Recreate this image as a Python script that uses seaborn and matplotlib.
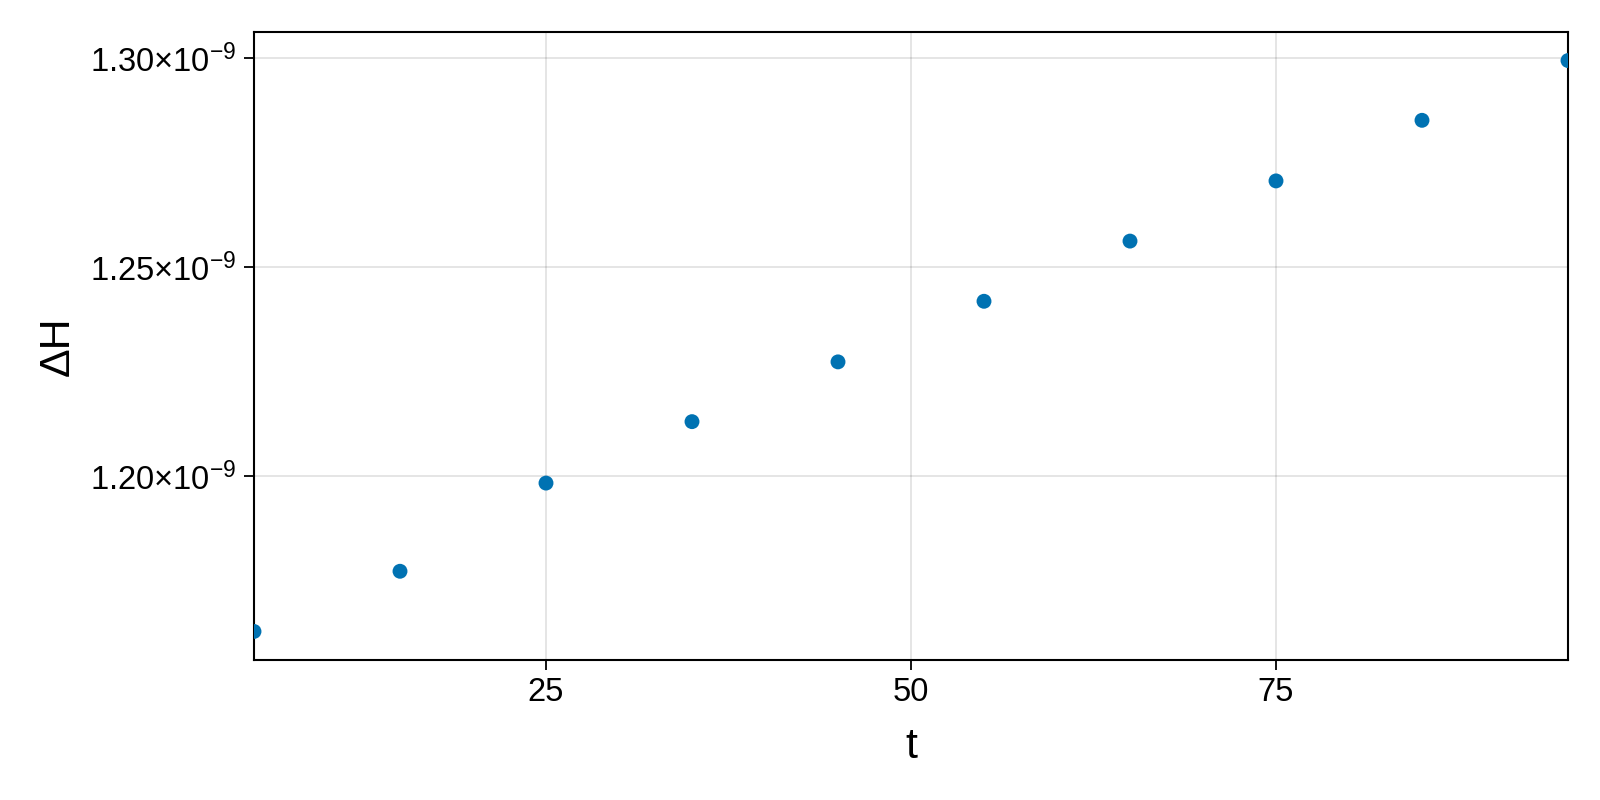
import numpy as np
import pandas as pd
import matplotlib
matplotlib.use("Agg")
import matplotlib.pyplot as plt
import matplotlib.ticker as mticker
import seaborn as sns

t_values = [5, 15, 25, 35, 45, 55, 65, 75, 85, 95]
dH_values_e9 = [1.1628, 1.1772, 1.1983, 1.2130, 1.2273, 1.2418, 1.2562, 1.2706, 1.2851, 1.2994]
x_ticks = [25, 50, 75]
y_ticks_e9 = [1.20, 1.25, 1.30]

df = pd.DataFrame({"t": t_values, "dH": np.array(dH_values_e9) * 1e-9})

sns.set_theme(style="white")
plt.rcParams["font.family"] = ["Liberation Sans", "DejaVu Sans"]
plt.rcParams["mathtext.fontset"] = "custom"
plt.rcParams["mathtext.rm"] = "Liberation Sans"
plt.rcParams["mathtext.it"] = "Liberation Sans:italic"
plt.rcParams["text.color"] = "black"
plt.rcParams["axes.labelcolor"] = "black"
plt.rcParams["xtick.color"] = "black"
plt.rcParams["ytick.color"] = "black"

fig = plt.figure(figsize=(16, 8), dpi=100)
ax = fig.add_axes([254 / 1600, 140 / 800, (1568 - 254) / 1600, (660 - 32) / 800])

sns.scatterplot(data=df, x="t", y="dH", ax=ax, color="#0072B2", s=115,
                edgecolor="none", linewidth=0, clip_on=True, zorder=3)

ax.set_xlim(5, 95)
ymin, ymax = min(df["dH"]), max(df["dH"])
pad = 0.05 * (ymax - ymin)
ax.set_ylim(ymin - pad, ymax + pad)

ax.set_xticks(x_ticks)
ax.set_yticks([v * 1e-9 for v in y_ticks_e9])
ax.xaxis.set_major_formatter(mticker.FuncFormatter(lambda v, p: f"{v:.0f}"))
ax.yaxis.set_major_formatter(mticker.FuncFormatter(
    lambda v, p: r"$\mathregular{" + f"{v * 1e9:.2f}" + r"{\times}10^{-9}}$"))

ax.grid(True, color="black", alpha=0.12, linewidth=1.2)
ax.set_axisbelow(True)
for s in ax.spines.values():
    s.set_visible(True)
    s.set_color("black")
    s.set_linewidth(1.5)

ax.tick_params(axis="both", which="major", direction="out", length=7, width=1.3,
               color="black", labelcolor="black", labelsize=23.5, pad=5,
               bottom=True, left=True)
ax.tick_params(axis="y", pad=6)

ax.set_xlabel("t", fontsize=31, labelpad=14, color="black")
ax.set_ylabel("ΔH", fontsize=31, labelpad=9, color="black")

fig.savefig("out.png", dpi=100, facecolor="white")
